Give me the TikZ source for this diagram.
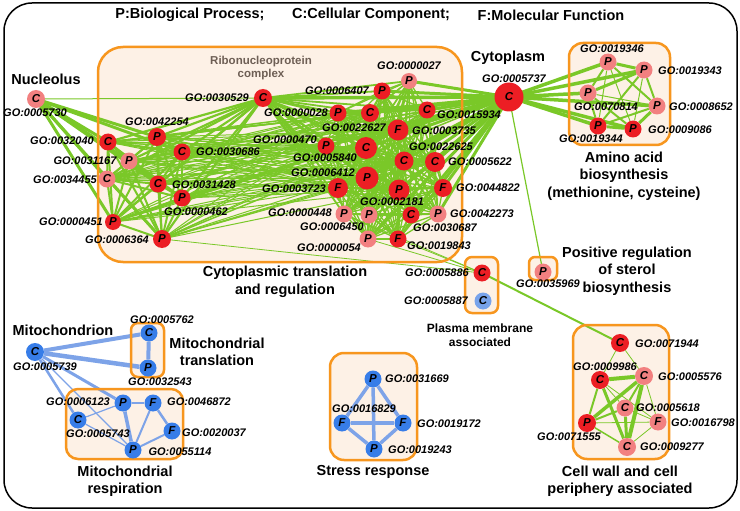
\documentclass[tikz,border=0pt]{standalone}
\usepackage{fontspec}
\setmainfont{Liberation Sans}
\pgfdeclarelayer{boxfill}
\pgfdeclarelayer{edgelayer}
\pgfdeclarelayer{boxborder}
\pgfsetlayers{boxfill,edgelayer,boxborder,main}
\definecolor{nred}{RGB}{236,30,36}
\definecolor{nlight}{RGB}{242,128,128}
\definecolor{nblue}{RGB}{55,125,232}
\definecolor{nlblue}{RGB}{120,163,235}
\definecolor{egreen}{RGB}{122,200,40}
\definecolor{eblue}{RGB}{125,163,232}
\definecolor{boxfill}{RGB}{253,241,230}
\definecolor{boxedge}{RGB}{247,150,30}
\definecolor{ribo}{RGB}{110,95,85}
\tikzset{
 gonode/.style={circle,inner sep=0pt,minimum size=#1,font=\bfseries\itshape\fontsize{11.5}{11.5}\selectfont,text=black},
 rn/.style={gonode=#1,fill=nred}, rn/.default=17pt,
 ln/.style={gonode=#1,fill=nlight}, ln/.default=17pt,
 bn/.style={gonode=#1,fill=nblue}, bn/.default=17pt,
 golab/.style={font=\bfseries\itshape\fontsize{11}{11}\selectfont,inner sep=0pt},
 clab/.style={font=\bfseries\fontsize{14.5}{17.5}\selectfont,align=center,inner sep=0pt},
 ge/.style={draw=egreen,line width=#1},
 be/.style={draw=eblue,line width=#1},
}
\newcommand{\grpbox}[5]{%
 \begin{pgfonlayer}{boxfill}\fill[boxfill,rounded corners=#5] (#1,#2) rectangle (#3,#4);\end{pgfonlayer}%
 \begin{pgfonlayer}{boxborder}\draw[boxedge,line width=2.5pt,rounded corners=#5] (#1,#2) rectangle (#3,#4);\end{pgfonlayer}}
\def\listL{n32040,n42254,n31167,n30686,n34455,n31428,n462,n451,n6364}
\def\listR{n27,n6407,n28,n22627,n15934,n3735,n470,n5840,n22625,n5622,n6412,n3723,n2181,n44822,n448,n6450,n30687,n42273,n54,n19843}
\def\listH{n5840,n6412,n3735,n2181,n22625,n5622,n22627,n3723,n28,n470}
\begin{document}
\begin{tikzpicture}[x=1pt,y=-1pt]
\useasboundingbox (0,0) rectangle (740,511);
\begin{pgfonlayer}{boxfill}\fill[white] (0,0) rectangle (740,511);\end{pgfonlayer}
\draw[line width=1.5pt,rounded corners=28pt] (4,3) rectangle (737,508);

% header
\node[clab] (hP) at (190,15) {P:Biological Process;};
\node[clab] (hC) at (371,15) {C:Cellular Component;};
\node[clab] (hF) at (551,15) {F:Molecular Function};

% boxes
\grpbox{98}{47}{462}{262}{25pt}
\grpbox{569}{43}{670}{145}{14pt}
\grpbox{465}{257}{498}{313}{7pt}
\grpbox{529}{257}{557}{280}{6pt}
\grpbox{573}{325}{669}{459}{14pt}
\grpbox{330}{353}{417}{460}{14pt}
\grpbox{131}{323}{164}{377}{7pt}
\grpbox{66}{389}{183}{459}{12pt}

% ---- main cluster nodes
\node[ln=18pt] (n5730) at (36,99) {C};
\node[rn] (n32040) at (108,142) {C};
\node[rn=18pt] (n42254) at (157,137) {P};
\node[ln] (n31167) at (129,161) {P};
\node[rn] (n30686) at (182,152) {C};
\node[ln] (n34455) at (107,179) {C};
\node[rn] (n31428) at (158,184) {C};
\node[rn] (n462) at (182,198) {P};
\node[rn=16pt] (n451) at (113,222) {P};
\node[rn=18pt] (n6364) at (162,239) {P};
\node[rn=18pt] (n30529) at (263,98) {C};
\node[ln=16pt] (n27) at (409,81) {P};
\node[rn] (n6407) at (382,91) {P};
\node[rn] (n28) at (338,113) {P};
\node[rn=18pt] (n22627) at (370,113) {C};
\node[rn] (n15934) at (427,110) {C};
\node[rn=21pt] (n3735) at (398,130) {F};
\node[rn] (n470) at (326,146) {P};
\node[rn=22pt] (n5840) at (366,148) {C};
\node[rn=19pt] (n22625) at (404,161) {C};
\node[rn=20pt] (n5622) at (435,162) {C};
\node[rn=23pt] (n6412) at (367,178) {P};
\node[rn=20pt] (n3723) at (338,188) {F};
\node[rn=21pt] (n2181) at (399,190) {P};
\node[rn=18pt] (n44822) at (443,188) {F};
\node[ln] (n448) at (344,214) {P};
\node[ln] (n6450) at (369,215) {P};
\node[rn] (n30687) at (411,215) {C};
\node[ln] (n42273) at (438,214) {P};
\node[ln] (n54) at (368,239) {P};
\node[rn] (n19843) at (398,239) {F};
\node[rn=29pt] (n5737) at (509,97) {C};

% amino acid
\node[ln] (a19346) at (608,62) {P};
\node[ln] (a19343) at (644,70) {P};
\node[ln] (a70814) at (588,93) {P};
\node[ln] (a8652) at (657,106) {P};
\node[rn] (a19344) at (598,126) {P};
\node[rn] (a9086) at (633,129) {P};

% plasma membrane, sterol
\node[rn] (p5886) at (482,273) {C};
\node[gonode=17pt,fill=nlblue] (p5887) at (483,301) {C};
\node[ln] (s35969) at (543,272) {P};

% cell wall
\node[rn=18pt] (w71944) at (620,343) {C};
\node[rn=18pt] (w9986) at (600,380) {C};
\node[ln=18pt] (w5576) at (644,376) {C};
\node[ln] (w5618) at (625,408) {C};
\node[ln] (w16798) at (658,422) {F};
\node[rn=18pt] (w71555) at (587,423) {P};
\node[ln=18pt] (w9277) at (627,447) {C};

% stress
\node[bn] (t31669) at (373,379) {P};
\node[bn] (t16829) at (342,423) {F};
\node[bn] (t19172) at (403,423) {F};
\node[bn] (t19243) at (374,449) {P};

% mito
\node[bn=18pt] (m5739) at (35,352) {C};
\node[bn] (m5762) at (149,333) {C};
\node[bn] (m32543) at (148,368) {P};
\node[bn] (m6123) at (123,403) {P};
\node[bn] (m46872) at (153,403) {F};
\node[bn] (m5743) at (78,420) {C};
\node[bn] (m20037) at (172,431) {F};
\node[bn] (m55114) at (133,450) {P};

% ---- edges
\begin{pgfonlayer}{edgelayer}
\foreach \a [count=\i] in \listR {\foreach \b [count=\j] in \listR {\ifnum\j>\i \draw[ge=1.3pt] (\a.center)--(\b.center);\fi}}
\foreach \a [count=\i] in \listL {\foreach \b [count=\j] in \listL {\ifnum\j>\i \draw[ge=2pt] (\a.center)--(\b.center);\fi}}
\foreach \a in \listL {
  \foreach \b in \listH {\draw[ge=1pt] (\a.center)--(\b.center);}
  \draw[ge=2.2pt] (n30529.center)--(\a.center);
  \draw[ge=3pt] (n5730.center)--(\a.center);
  \draw[ge=1.5pt] (n5737.center)--(\a.center);}
\foreach \b in \listR {\draw[ge=1.8pt] (n30529.center)--(\b.center); \draw[ge=3pt] (n5737.center)--(\b.center);}
\draw[ge=1pt] (n5730.center)--(n30529.center);
\draw[ge=3.5pt] (n5737.center)--(n30529.center);
% to plasma membrane
\foreach \b in {n6364,n448,n54,n19843} {\draw[ge=0.8pt] (p5886.center)--(\b.center);}
\draw[ge=2pt] (p5886.center)--(w71944.center);
\draw[ge=1.2pt] (n5737.center)--(s35969.center);
% amino
\foreach \b in {a19346,a19343,a70814,a8652,a19344,a9086} {\draw[ge=3.5pt] (n5737.center)--(\b.center);}
\draw[ge=3pt] (a19346)--(a19343);
\draw[ge=2pt] (a19346)--(a70814);
\draw[ge=2pt] (a19346)--(a8652);
\draw[ge=1pt] (a19346)--(a19344);
\draw[ge=1pt] (a19346)--(a9086);
\draw[ge=3pt] (a19343)--(a70814);
\draw[ge=2pt] (a19343)--(a8652);
\draw[ge=2pt] (a19343)--(a19344);
\draw[ge=1pt] (a19343)--(a9086);
\draw[ge=1pt] (a70814)--(a8652);
\draw[ge=2pt] (a70814)--(a19344);
\draw[ge=2pt] (a70814)--(a9086);
\draw[ge=2pt] (a8652)--(a19344);
\draw[ge=3pt] (a8652)--(a9086);
\draw[ge=3pt] (a19344)--(a9086);
% cell wall
\draw[ge=0.8pt] (w71944)--(w9986);
\draw[ge=0.8pt] (w71944)--(w5576);
\draw[ge=4pt] (w9986)--(w5576);
\draw[ge=2pt] (w9986)--(w71555);
\draw[ge=3pt] (w9986)--(w9277);
\draw[ge=0.8pt] (w9986)--(w5618);
\draw[ge=0.8pt] (w9986)--(w16798);
\draw[ge=3.5pt] (w5576)--(w71555);
\draw[ge=4pt] (w5576)--(w9277);
\draw[ge=2pt] (w5576)--(w5618);
\draw[ge=0.8pt] (w5576)--(w16798);
\draw[ge=2pt] (w71555)--(w5618);
\draw[ge=1.5pt] (w71555)--(w9277);
\draw[ge=0.8pt] (w71555)--(w16798);
\draw[ge=3pt] (w5618)--(w9277);
\draw[ge=0.8pt] (w16798)--(w9277);
\draw[ge=0.8pt] (w5618)--(w16798);
% stress
\draw[be=3.5pt] (t31669)--(t16829);
\draw[be=3.5pt] (t31669)--(t19172);
\draw[be=3.5pt] (t31669)--(t19243);
\draw[be=3.5pt] (t16829)--(t19172);
\draw[be=3.5pt] (t16829)--(t19243);
\draw[be=3.5pt] (t19172)--(t19243);
% mito
\draw[be=4pt] (m5739)--(m5762);
\draw[be=4.5pt] (m5739)--(m32543);
\draw[be=4pt] (m5762)--(m32543);
\draw[be=3pt] (m5739)--(m6123);
\draw[be=2.5pt] (m5739)--(m5743);
\draw[be=1.2pt] (m5739)--(m55114);
\draw[be=1.5pt] (m6123)--(m46872);
\draw[be=3.5pt] (m6123)--(m55114);
\draw[be=1.2pt] (m6123)--(m5743);
\draw[be=1.2pt] (m5743)--(m55114);
\draw[be=2pt] (m46872)--(m55114);
\draw[be=2.5pt] (m46872)--(m20037);
\draw[be=2pt] (m20037)--(m55114);
\end{pgfonlayer}

% ---- labels
\node[clab] (tNuc) at (46,79) {Nucleolus};
\node[font=\bfseries\fontsize{11.5}{13}\selectfont,text=ribo,align=center,inner sep=0pt] (tRibo) at (261,68) {Ribonucleoprotein\\complex};
\node[clab] (tCyt) at (508,58) {Cytoplasm};
\node[clab] (tCTR) at (285,282) {Cytoplasmic translation\\and regulation};
\node[clab] (tAmino) at (624,176) {Amino acid\\biosynthesis\\(methionine, cysteine)};
\node[clab] (tSterol) at (627,271) {Positive regulation\\of sterol\\biosynthesis};
\node[font=\bfseries\fontsize{12}{13.5}\selectfont,align=center,inner sep=0pt] (tPM) at (480,335) {Plasma membrane\\associated};
\node[clab] (tMito) at (63,330) {Mitochondrion};
\node[clab] (tMT) at (217,352) {Mitochondrial\\translation};
\node[clab] (tMR) at (125,481) {Mitochondrial\\respiration};
\node[clab] (tSR) at (373,472) {Stress response};
\node[clab] (tCW) at (620,481) {Cell wall and cell\\periphery associated};

\node[golab] (l5730) at (35,113) {GO:0005730};
\node[golab] (l42254) at (157,122) {GO:0042254};
\node[golab] (l32040) at (62,141) {GO:0032040};
\node[golab] (l31167) at (85,161) {GO:0031167};
\node[golab] (l30686) at (228,152) {GO:0030686};
\node[golab] (l34455) at (65,180) {GO:0034455};
\node[golab] (l31428) at (204,185) {GO:0031428};
\node[golab] (l462) at (196,212) {GO:0000462};
\node[golab] (l451) at (71,222) {GO:0000451};
\node[golab] (l6364) at (117,240) {GO:0006364};
\node[golab] (l30529) at (217,98) {GO:0030529};
\node[golab] (l27) at (409,66) {GO:0000027};
\node[golab] (l6407) at (337,91) {GO:0006407};
\node[golab] (l28) at (296,113) {GO:0000028};
\node[golab] (l22627) at (354,128) {GO:0022627};
\node[golab] (l15934) at (469,115) {GO:0015934};
\node[golab] (l3735) at (444,131) {GO:0003735};
\node[golab] (l470) at (285,140) {GO:0000470};
\node[golab] (l5840) at (325,158) {GO:0005840};
\node[golab] (l22625) at (441,147) {GO:0022625};
\node[golab] (l5622) at (480,162) {GO:0005622};
\node[golab] (l6412) at (323,173) {GO:0006412};
\node[golab] (l3723) at (294,189) {GO:0003723};
\node[golab] (l2181) at (392,202) {GO:0002181};
\node[golab] (l44822) at (488,188) {GO:0044822};
\node[golab] (l448) at (300,213) {GO:0000448};
\node[golab] (l6450) at (332,227) {GO:0006450};
\node[golab] (l30687) at (445,228) {GO:0030687};
\node[golab] (l42273) at (482,214) {GO:0042273};
\node[golab] (l54) at (329,248) {GO:0000054};
\node[golab] (l19843) at (439,246) {GO:0019843};
\node[golab] (l5737) at (514,79) {GO:0005737};

\node[golab] (l19346) at (612,49) {GO:0019346};
\node[golab] (l19343) at (690,71) {GO:0019343};
\node[golab] (l70814) at (606,107) {GO:0070814};
\node[golab] (l8652) at (701,107) {GO:0008652};
\node[golab] (l19344) at (591,139) {GO:0019344};
\node[golab] (l9086) at (680,130) {GO:0009086};

\node[golab] (l5886) at (437,273) {GO:0005886};
\node[golab] (l5887) at (436,301) {GO:0005887};
\node[golab] (l35969) at (548,284) {GO:0035969};

\node[golab] (l71944) at (667,344) {GO:0071944};
\node[golab] (l9986) at (605,367) {GO:0009986};
\node[golab] (l5576) at (690,377) {GO:0005576};
\node[golab] (l5618) at (668,408) {GO:0005618};
\node[golab] (l16798) at (703,423) {GO:0016798};
\node[golab] (l71555) at (569,437) {GO:0071555};
\node[golab] (l9277) at (672,447) {GO:0009277};

\node[golab] (l31669) at (417,379) {GO:0031669};
\node[golab] (l16829) at (364,409) {GO:0016829};
\node[golab] (l19172) at (449,424) {GO:0019172};
\node[golab] (l19243) at (420,450) {GO:0019243};

\node[golab] (l5739) at (45,367) {GO:0005739};
\node[golab] (l5762) at (162,320) {GO:0005762};
\node[golab] (l32543) at (160,382) {GO:0032543};
\node[golab] (l6123) at (78,402) {GO:0006123};
\node[golab] (l46872) at (199,402) {GO:0046872};
\node[golab] (l5743) at (98,434) {GO:0005743};
\node[golab] (l20037) at (214,433) {GO:0020037};
\node[golab] (l55114) at (180,452) {GO:0055114};
\end{tikzpicture}
\end{document}
